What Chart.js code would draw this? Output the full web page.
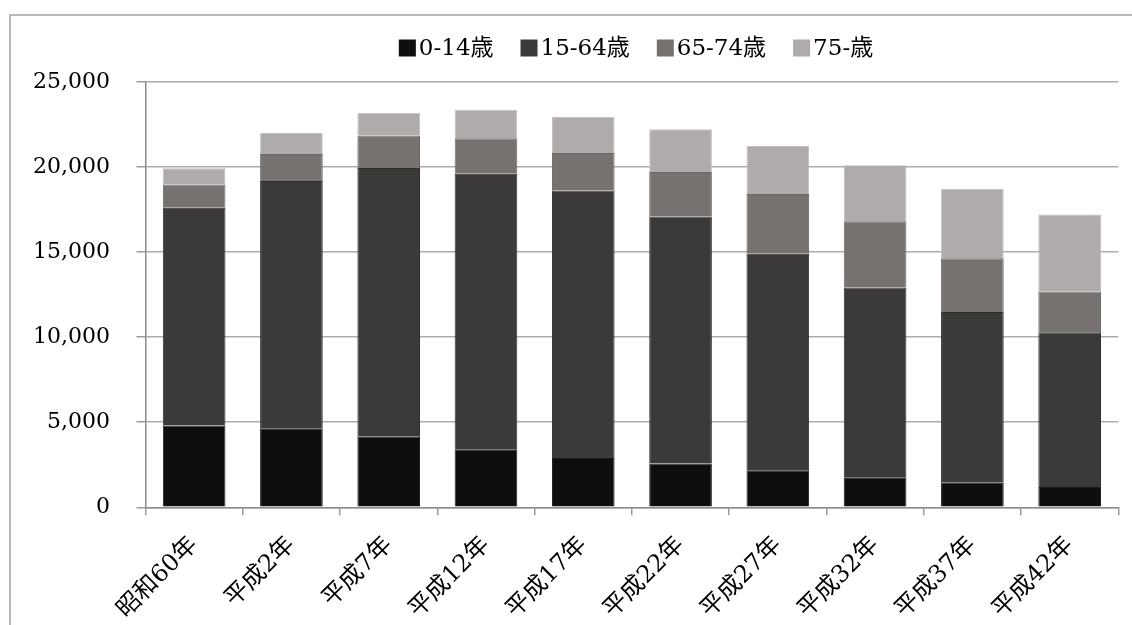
<!DOCTYPE html>
<html>
<head>
<meta charset="utf-8">
<script src="https://cdn.jsdelivr.net/npm/chart.js@4.4.1/dist/chart.umd.min.js"></script>
<style>
  html, body { margin: 0; padding: 0; background: #ffffff; }
  #wrap { position: relative; width: 1132px; height: 625px; }
  canvas { display: block; }
</style>
</head>
<body>
<div id="wrap"><canvas id="chart" width="1132" height="625"></canvas></div>
<script>
// Population by age group (persons)
const categories = ['昭和60年', '平成2年', '平成7年', '平成12年', '平成17年', '平成22年', '平成27年', '平成32年', '平成37年', '平成42年'];
const age0to14  = [4806, 4652, 4140, 3416, 2903, 2568, 2179, 1767, 1449, 1196];
const age15to64 = [12803, 14524, 15801, 16195, 15725, 14529, 12721, 11148, 10035, 9087];
const age65to74 = [1372, 1590, 1909, 2079, 2202, 2609, 3510, 3905, 3157, 2397];
const age75plus = [942, 1236, 1336, 1685, 2122, 2514, 2827, 3280, 4087, 4534];
const seriesLabels = ['0-14歳', '15-64歳', '65-74歳', '75-歳'];
const yTicks = [0, 5000, 10000, 15000, 20000, 25000];

const fills   = ['#0e0e0e', '#3b3a38', '#77726f', '#afabaa'];
const borders = ['#1c1c1c', '#2f2e2d', '#6b6764', '#c2bfbe'];
const FONT = '"DejaVu Serif", "Noto Sans CJK JP", serif';

// Frame around the chart (left and top edges)
const framePlugin = {
  id: 'frame',
  beforeDraw(chart) {
    const ctx = chart.ctx;
    ctx.save();
    ctx.strokeStyle = '#a3a3a3';
    ctx.lineWidth = 1.5;
    ctx.beginPath();
    ctx.moveTo(10, 625);
    ctx.lineTo(10, 15);
    ctx.lineTo(1132, 15);
    ctx.stroke();
    ctx.restore();
  }
};

// Compact legend: square swatch followed closely by the label
const legendPlugin = {
  id: 'compactLegend',
  afterDraw(chart) {
    const ctx = chart.ctx;
    const box = 17, gap = 3, itemGap = 27, cy = 48, cx = 636;
    ctx.save();
    ctx.font = '23px ' + FONT;
    ctx.textBaseline = 'middle';
    const items = chart.data.datasets.map(ds => ({
      text: ds.label, color: ds.backgroundColor, w: ctx.measureText(ds.label).width
    }));
    const total = items.reduce((s, it) => s + box + gap + it.w, 0) + itemGap * (items.length - 1);
    let x = cx - total / 2;
    items.forEach(it => {
      ctx.fillStyle = it.color;
      ctx.fillRect(x, cy - box / 2, box, box);
      ctx.fillStyle = '#000000';
      ctx.fillText(it.text, x + box + gap, cy + 1);
      x += box + gap + it.w + itemGap;
    });
    ctx.restore();
  }
};

const seriesData = [age0to14, age15to64, age65to74, age75plus];

new Chart(document.getElementById('chart'), {
  type: 'bar',
  data: {
    labels: categories,
    datasets: seriesData.map((d, i) => ({
      label: seriesLabels[i],
      data: d,
      backgroundColor: fills[i],
      borderColor: borders[i],
      borderWidth: 1,
      barPercentage: 0.644,
      categoryPercentage: 1.0
    }))
  },
  options: {
    responsive: false,
    animation: false,
    devicePixelRatio: 1,
    layout: { padding: { left: 10, top: 82, right: 13.7, bottom: 0 } },
    plugins: {
      legend: { display: false },
      tooltip: { enabled: false }
    },
    scales: {
      x: {
        stacked: true,
        offset: true,
        grid: {
          drawOnChartArea: false,
          drawTicks: true,
          tickLength: 8,
          color: '#9a9a9a',
          lineWidth: 1.5,
          offset: true
        },
        border: { color: '#8c8c8c', width: 1.5 },
        ticks: {
          autoSkip: false,
          maxRotation: 45,
          minRotation: 45,
          padding: 16,
          color: '#000000',
          font: { family: FONT, size: 24 }
        },
        afterFit(scale) { scale.height = 117.7; }
      },
      y: {
        stacked: true,
        min: yTicks[0],
        max: yTicks[yTicks.length - 1],
        afterBuildTicks(scale) { scale.ticks = yTicks.map(v => ({ value: v })); },
        grid: {
          color: '#acacac',
          lineWidth: 1.5,
          tickLength: 9,
          tickColor: '#9a9a9a'
        },
        border: { color: '#8c8c8c', width: 1.5 },
        ticks: {
          padding: 26.5,
          color: '#000000',
          font: { family: FONT, size: 22 },
          callback: v => Number(v).toLocaleString('en-US')
        },
        afterFit(scale) { scale.width = 135.5; }
      }
    }
  },
  plugins: [framePlugin, legendPlugin]
});
</script>
</body>
</html>
